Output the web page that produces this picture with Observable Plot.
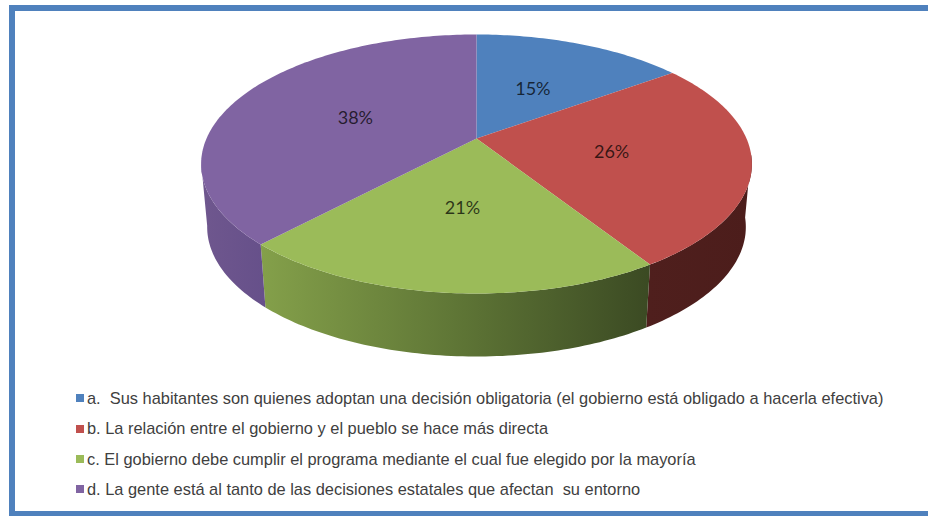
<!DOCTYPE html>
<html lang="es">
<head>
<meta charset="utf-8">
<script src="https://cdn.jsdelivr.net/npm/d3@7"></script>
<script src="https://cdn.jsdelivr.net/npm/@observablehq/plot@0.6"></script>
<style>
  html, body { margin: 0; padding: 0; background: #fff; }
  #card { position: absolute; left: 9px; top: 5px; width: 919px; height: 511px; box-sizing: border-box;
          border: solid #4F81BD; border-width: 6px 0 5px 6px; overflow: hidden; background: #fff; }
  #chart { position: absolute; left: -15px; top: -11px; }
  #chart svg { display: block; }
  #legend { position: absolute; left: 61px; top: 372px; margin: 0; padding: 0; list-style: none;
            font: 16.4px "Liberation Sans", Arial, sans-serif; color: #404040; white-space: pre; }
  #legend li { height: 30.4px; line-height: 30.4px; display: flex; align-items: center; }
  #legend i { width: 8px; height: 8px; margin-right: 3px; display: block; flex: none; }
  #defs { position: absolute; width: 0; height: 0; }
</style>
</head>
<body>
<svg id="defs" aria-hidden="true"><defs>
  <linearGradient id="wall-red" x1="0" x2="1" y1="0" y2="0">
    <stop offset="0" stop-color="#4f1f1d"/><stop offset="1" stop-color="#4c1d1b"/>
  </linearGradient>
  <linearGradient id="wall-green" x1="0" x2="1" y1="0" y2="0">
    <stop offset="0" stop-color="#84a04a"/><stop offset="0.5" stop-color="#5f7636"/><stop offset="1" stop-color="#3b4a23"/>
  </linearGradient>
  <linearGradient id="wall-purple" x1="0" x2="1" y1="0" y2="0">
    <stop offset="0" stop-color="#6f578e"/><stop offset="1" stop-color="#66508a"/>
  </linearGradient>
</defs></svg>
<div id="card">
  <div id="chart"></div>
  <ul id="legend"></ul>
</div>
<script>
const categories = ["a", "b", "c", "d"];
const values = [15, 26, 21, 38];
const colors = ["#4F81BD", "#C0504D", "#9BBB59", "#8064A2"];
const walls = [null, "url(#wall-red)", "url(#wall-green)", "url(#wall-purple)"];
const legendLabels = [
  "a.  Sus habitantes son quienes adoptan una decisión obligatoria (el gobierno está obligado a hacerla efectiva)",
  "b. La relación entre el gobierno y el pueblo se hace más directa",
  "c. El gobierno debe cumplir el programa mediante el cual fue elegido por la mayoría",
  "d. La gente está al tanto de las decisiones estatales que afectan  su entorno"
];

// Perspective view of the pie disc
const view = {cx: 476, cy: 138, rx: 270, b: -97.3, c: 0.1969, depth: 63, shrink: 0.978};
function onDisc(theta, r = 1) {
  const px = r * Math.sin(theta), py = r * Math.cos(theta), w = 1 + view.c * py;
  return {x: view.cx + view.rx * px / w, y: (view.cy + view.b * py) / w};
}
function onBase(theta) {
  const p = onDisc(theta);
  return {x: view.cx + (p.x - view.cx) * view.shrink, y: p.y + view.depth};
}
const tau = 2 * Math.PI;
const total = d3.sum(values);
let acc = 0;
const slices = values.map((v, i) => {
  const start = acc / total * tau; acc += v; const end = acc / total * tau;
  return {i, name: categories[i], value: v, start, end, mid: (start + end) / 2};
});
function arc(f, a, b) {
  const n = Math.max(2, Math.ceil((b - a) / tau * 360));
  return d3.range(n + 1).map(k => f(a + (b - a) * k / n));
}
const faces = slices.flatMap(s => [onDisc(0, 0), ...arc(onDisc, s.start, s.end)].map(p => ({...p, name: s.name})));
const labels = slices.map(s => ({...onDisc(s.mid, 0.5), text: `${s.value}%`}));

// Only the front of the wall shows: clip each slice's wall to the near half of the disc
const wallMarks = slices.filter(s => walls[s.i]).map(s => {
  const a = Math.max(s.start, tau * 0.27), b = Math.min(s.end, tau * 0.72);
  const pts = [...arc(onDisc, a, b), ...arc(onBase, a, b).reverse()];
  return Plot.line(pts, {x: "x", y: "y", fill: walls[s.i], stroke: "none", curve: "linear-closed"});
});

const plot = Plot.plot({
  width: 928, height: 375, margin: 0,
  x: {domain: [0, 928], range: [0, 928], axis: null},
  y: {domain: [0, 375], range: [0, 375], axis: null},
  color: {domain: categories, range: colors},
  marks: [
    ...wallMarks,
    Plot.line(faces, {x: "x", y: "y", z: "name", fill: "name", stroke: "none", curve: "linear-closed"}),
    Plot.text(labels, {x: "x", y: "y", dy: 1.5, text: "text", fontSize: 18, fontFamily: "Lato, sans-serif", fill: "#000", fillOpacity: 0.72})
  ]
});
document.getElementById("chart").append(plot);

const legend = d3.select("#legend");
legendLabels.forEach((t, i) => {
  const li = legend.append("li");
  li.append("i").style("background", colors[i]);
  li.append("span").text(t);
});
</script>
</body>
</html>
